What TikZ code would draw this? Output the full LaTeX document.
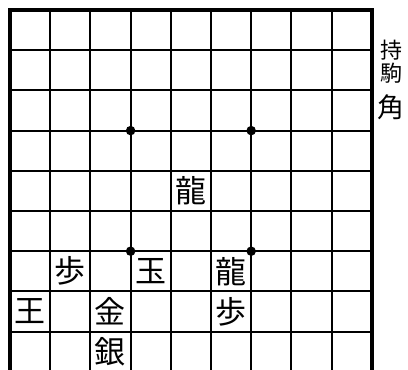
\documentclass[tikz,border=0pt]{standalone}
\usepackage{fontspec}
\newfontfamily\jp{Noto Sans CJK JP}
\begin{document}
\begin{tikzpicture}[x=1pt,y=-1pt,
  gridline/.style={line width=2pt,black},
  border/.style={line width=3.5pt,black},
  piece/.style={font=\jp\fontsize{31}{31}\selectfont,inner sep=0pt,anchor=center},
  hold/.style={font=\jp\fontsize{22}{22}\selectfont,inner sep=0pt,anchor=center},
  holdpiece/.style={font=\jp\fontsize{27}{27}\selectfont,inner sep=0pt,anchor=center},
  star/.style={circle,fill=black,inner sep=0pt,minimum size=9.5pt}]
\useasboundingbox (0,0) rectangle (408,370);
\clip (0,0) rectangle (408,370);
\def\s{40.2}
\foreach \i in {1,...,8}{
  \draw[gridline] ({10+\i*\s},10) -- ({10+\i*\s},{10+9*\s});
  \draw[gridline] (10,{10+\i*\s}) -- ({10+9*\s},{10+\i*\s});
}
\draw[border] (10,10) rectangle ({10+9*\s},{10+9*\s});
\node[star] (s1) at ({10+3*\s},{10+3*\s}) {};
\node[star] (s2) at ({10+6*\s},{10+3*\s}) {};
\node[star] (s3) at ({10+3*\s},{10+6*\s}) {};
\node[star] (s4) at ({10+6*\s},{10+6*\s}) {};
\node[piece] (ryu1) at ({10+4.5*\s},{10+4.5*\s}) {龍};
\node[piece] (fu1) at ({10+1.5*\s},{10+6.5*\s}) {歩};
\node[piece] (gyoku) at ({10+3.5*\s},{10+6.5*\s}) {玉};
\node[piece] (ryu2) at ({10+5.5*\s},{10+6.5*\s}) {龍};
\node[piece] (ou) at ({10+0.5*\s},{10+7.5*\s}) {王};
\node[piece] (kin) at ({10+2.5*\s},{10+7.5*\s}) {金};
\node[piece] (fu2) at ({10+5.5*\s},{10+7.5*\s}) {歩};
\node[piece] (gin) at ({10+2.5*\s},{10+8.5*\s}) {銀};
\node[hold] (mochi) at (391,50) {持};
\node[hold] (goma) at (391,73) {駒};
\node[holdpiece] (kaku) at (391,107) {角};
\end{tikzpicture}
\end{document}
